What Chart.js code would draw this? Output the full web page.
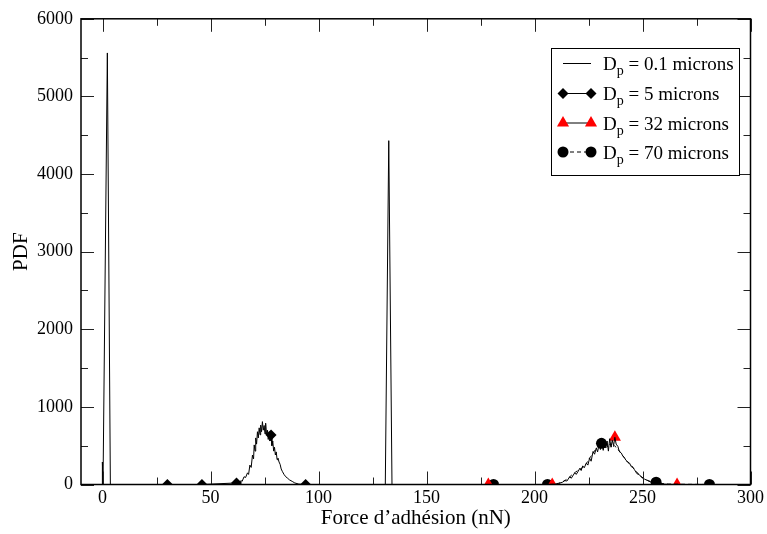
<!DOCTYPE html>
<html>
<head>
<meta charset="utf-8">
<script src="https://cdn.jsdelivr.net/npm/chart.js@4"></script>
<style>
  html, body { margin: 0; padding: 0; background: #fff; }
  #wrap { width: 767px; height: 534px; }
</style>
</head>
<body>
<div id="wrap"><canvas id="c" width="767" height="534"></canvas></div>
<script>
// axis ticks
const xTicks = [0, 50, 100, 150, 200, 250, 300];
const xMinor = [25, 75, 125, 175, 225, 275];
const yTicks = [0, 1000, 2000, 3000, 4000, 5000, 6000];
const yMinor = [500, 1500, 2500, 3500, 4500, 5500];

// Dp = 0.1 microns (line only)
const s1X = [-0.2, -0.1, 0.2, 2.2, 3.6, 130.9, 132.5, 134.0, 300];
const s1Y = [0, 290, 0, 5560, 0, 0, 4430, 0, 0];

// Dp = 5 microns
const s2X = [30, 46, 62, 63.2, 64.0, 64.6, 65.5, 66.2, 67.1, 67.6, 68.2, 68.8, 69.4, 69.9, 70.2, 70.6,
  70.9, 71.3, 71.7, 72.1, 72.5, 72.9, 73.2, 73.6, 74.0, 74.4, 74.8, 75.2, 75.5, 75.9, 76.3, 76.7,
  77.1, 77.5, 78.0, 78.4, 78.8, 79.2, 79.6, 80.0, 80.4, 80.8, 81.2, 81.7, 82.2, 82.7, 83.2, 84.0,
  84.8, 85.5, 86.5, 87.8, 89.0, 90.9, 94.0];
const s2Y = [0, 0, 20, 10, 50, 40, 100, 90, 150, 130, 250, 220, 380, 330, 510, 430,
  600, 520, 680, 600, 730, 640, 765, 680, 810, 700, 760, 650, 790, 640, 700, 580,
  680, 560, 639, 500, 560, 430, 480, 380, 420, 320, 340, 290, 260, 200, 170, 130,
  100, 85, 60, 40, 20, 5, 0];
const m2X = [30, 46, 62, 78, 94];
const m2Y = [0, 0, 20, 639, 0];

// Dp = 32 microns
const s3X = [178.6, 208.2, 211, 213, 214, 215, 216.3, 217, 218.6, 219.3, 220.2, 221, 221.6, 222.3,
  223, 224, 224.7, 225.5, 226.2, 227.1, 227.8, 228.6, 229.2, 229.9, 230.5, 231.2, 231.8, 232.4,
  233, 233.6, 234.2, 234.8, 235.4, 236, 236.6, 237.2, 237.8, 238.6, 239.2, 240.2, 240.8, 241.7,
  242.4, 243.2, 244, 244.8, 245.5, 246.3, 247.4, 248.6, 249.6, 250.9, 252.4, 254, 256, 258, 266];
const s3Y = [0, 0, 10, 30, 50, 45, 100, 80, 150, 130, 170, 210, 180, 240,
  215, 275, 250, 340, 300, 425, 390, 470, 420, 520, 450, 560, 440, 580,
  470, 560, 430, 590, 480, 570, 500, 608, 520, 490, 430, 405, 370, 340,
  310, 290, 275, 230, 220, 190, 140, 125, 90, 70, 50, 30, 15, 5, 0];
const m3X = [178.6, 208.2, 237.2, 266];
const m3Y = [0, 0, 608, 0];

// Dp = 70 microns
const s4X = [181, 206, 209, 211, 213, 214.5, 216, 217.5, 219, 220.5, 221.5, 222.5, 224, 225, 226,
  227.5, 229, 230, 231, 232, 233, 234, 235, 236, 237, 238.5, 240, 241.5, 243, 245, 247, 249,
  251, 253, 255, 256.3, 258, 262, 281];
const s4Y = [0, 0, 5, 15, 35, 60, 90, 130, 160, 190, 200, 230, 270, 320, 360,
  420, 480, 510, 530, 500, 540, 480, 520, 470, 500, 460, 400, 350, 290, 240, 170, 110,
  70, 45, 32, 30, 15, 5, 0];
const m4X = [181, 206, 231, 256.3, 281];
const m4Y = [0, 0, 530, 30, 0];

const serif = "'Liberation Serif', 'Times New Roman', serif";
const pts = (xs, ys) => xs.map((x, i) => ({ x: x, y: ys[i] }));

// inward ticks, frame and legend box
const framePlugin = {
  id: "frame",
  afterDatasetsDraw(chart) {
    const ctx = chart.ctx;
    const a = chart.chartArea;
    const xs = chart.scales.x, ys = chart.scales.y;
    ctx.save();
    ctx.strokeStyle = "#222";
    ctx.lineWidth = 1;
    const tickX = (v, len) => {
      const p = Math.round(xs.getPixelForValue(v)) + 0.5;
      ctx.beginPath();
      ctx.moveTo(p, a.bottom); ctx.lineTo(p, a.bottom - len);
      ctx.moveTo(p, a.top); ctx.lineTo(p, a.top + len);
      ctx.stroke();
    };
    const tickY = (v, len) => {
      const p = Math.round(ys.getPixelForValue(v)) + 0.5;
      ctx.beginPath();
      ctx.moveTo(a.left, p); ctx.lineTo(a.left + len, p);
      ctx.moveTo(a.right, p); ctx.lineTo(a.right - len, p);
      ctx.stroke();
    };
    xTicks.forEach(v => tickX(v, 13));
    xMinor.forEach(v => tickX(v, 7));
    yTicks.forEach(v => tickY(v, 13));
    yMinor.forEach(v => tickY(v, 7));

    ctx.strokeStyle = "#000";
    ctx.lineWidth = 1.5;
    ctx.strokeRect(a.left, a.top, a.right - a.left, a.bottom - a.top);

    // legend
    const bx = 551, by = 48, bw = 188, bh = 127;
    ctx.fillStyle = "#fff";
    ctx.fillRect(bx, by, bw, bh);
    ctx.lineWidth = 1;
    ctx.strokeStyle = "#000";
    ctx.strokeRect(bx + 0.5, by + 0.5, bw, bh);

    const labels = ["0.1 microns", "5 microns", "32 microns", "70 microns"];
    const rows = [63.5, 93.5, 123, 152];
    rows.forEach((ry, i) => {
      const x1 = 563, x2 = 591;
      ctx.strokeStyle = "#000";
      ctx.lineWidth = 1;
      ctx.setLineDash(i === 3 ? [4, 3] : []);
      ctx.beginPath();
      ctx.moveTo(x1, ry); ctx.lineTo(x2, ry);
      ctx.stroke();
      ctx.setLineDash([]);
      [x1, x2].forEach(px => {
        ctx.beginPath();
        if (i === 1) {
          const r = 5.5;
          ctx.moveTo(px, ry - r); ctx.lineTo(px + r, ry); ctx.lineTo(px, ry + r); ctx.lineTo(px - r, ry);
          ctx.closePath();
          ctx.fillStyle = "#000"; ctx.fill();
        } else if (i === 2) {
          const r = 7;
          ctx.moveTo(px, ry - r);
          ctx.lineTo(px + r * 0.866, ry + r * 0.5);
          ctx.lineTo(px - r * 0.866, ry + r * 0.5);
          ctx.closePath();
          ctx.fillStyle = "#f00"; ctx.fill();
        } else if (i === 3) {
          ctx.arc(px, ry, 5.5, 0, Math.PI * 2);
          ctx.fillStyle = "#000"; ctx.fill();
        }
      });
      ctx.fillStyle = "#000";
      ctx.textBaseline = "alphabetic";
      ctx.textAlign = "left";
      ctx.font = "19px " + serif;
      const base = ry + 6.5;
      ctx.fillText("D", 603, base);
      const dw = ctx.measureText("D").width;
      ctx.font = "14px " + serif;
      ctx.fillText("p", 603 + dw, base + 5);
      const pw = ctx.measureText("p").width;
      ctx.font = "19px " + serif;
      ctx.fillText(" = " + labels[i], 603 + dw + pw, base);
    });
    ctx.restore();
  }
};

new Chart(document.getElementById("c"), {
  type: "scatter",
  data: {
    datasets: [
      { data: pts(s1X, s1Y), showLine: true, borderColor: "#000", borderWidth: 1, pointRadius: 0 },
      { data: pts(s2X, s2Y), showLine: true, borderColor: "#000", borderWidth: 1, pointRadius: 0 },
      { data: pts(s4X, s4Y), showLine: true, borderColor: "#000", borderWidth: 1, borderDash: [4, 3], pointRadius: 0 },
      { data: pts(s3X, s3Y), showLine: true, borderColor: "#000", borderWidth: 1, pointRadius: 0 },
      { data: pts(m2X, m2Y), showLine: false, pointStyle: "rectRot", pointRadius: 5.5,
        backgroundColor: "#000", borderColor: "#000", borderWidth: 0 },
      { data: pts(m3X, m3Y), showLine: false, pointStyle: "triangle", pointRadius: 7,
        backgroundColor: "#f00", borderColor: "#f00", borderWidth: 0 },
      { data: pts(m4X, m4Y), showLine: false, pointStyle: "circle", pointRadius: 5.5,
        backgroundColor: "#000", borderColor: "#000", borderWidth: 0 }
    ]
  },
  options: {
    responsive: false,
    animation: false,
    layout: { padding: { top: 15, right: 14, left: 0, bottom: 0 } },
    plugins: { legend: { display: false }, tooltip: { enabled: false } },
    scales: {
      x: {
        type: "linear",
        min: -10,
        max: 300,
        afterBuildTicks: s => { s.ticks = xTicks.map(v => ({ value: v })); },
        afterFit: s => { s.height = 49.5; },
        grid: { display: false, drawTicks: false, tickLength: 0 },
        border: { display: false },
        ticks: { color: "#000", font: { family: serif, size: 18 }, padding: 3, maxRotation: 0,
          callback: v => String(v) },
        title: { display: true, text: "Force d’adhésion (nN)", color: "#000",
          font: { family: serif, size: 21 }, padding: { top: 0, bottom: 3 } }
      },
      y: {
        type: "linear",
        min: 0,
        max: 6000,
        afterBuildTicks: s => { s.ticks = yTicks.map(v => ({ value: v })); },
        afterFit: s => { s.width = 81; },
        grid: { display: false, drawTicks: false, tickLength: 0 },
        border: { display: false },
        ticks: { color: "#000", font: { family: serif, size: 18 }, padding: 8,
          callback: v => String(v) },
        title: { display: true, text: "PDF", color: "#000",
          font: { family: serif, size: 21 }, padding: { top: 9, bottom: 0 } }
      }
    }
  },
  plugins: [framePlugin]
});
</script>
</body>
</html>
